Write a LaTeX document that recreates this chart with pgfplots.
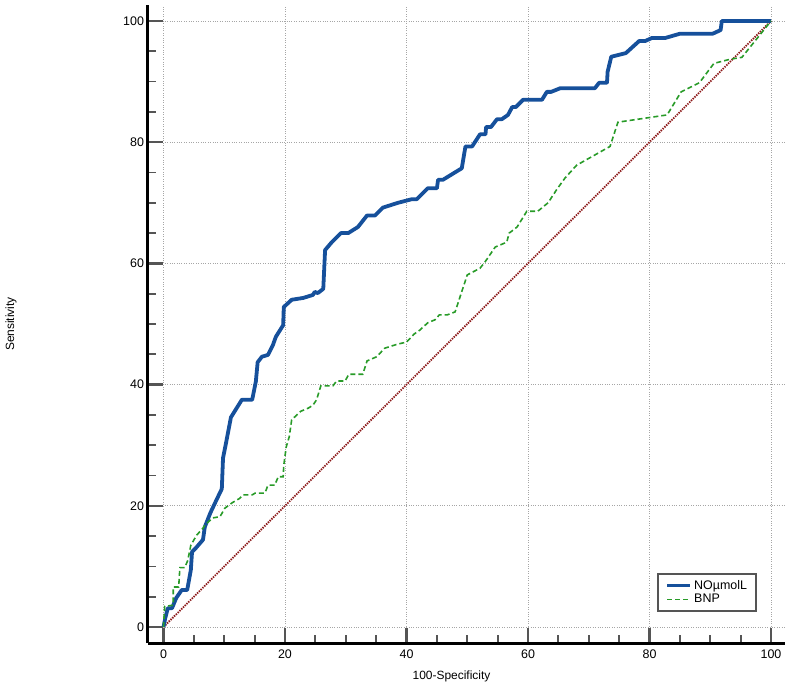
\documentclass[border=0pt]{standalone}
\usepackage{pgfplots}
\pgfplotsset{compat=1.18}
\usepackage{fontspec}
\setmainfont{Liberation Sans}
\definecolor{rocblue}{RGB}{22,80,155}
\definecolor{rocgreen}{RGB}{40,155,40}
\definecolor{diagred}{RGB}{140,25,25}
\definecolor{tickgray}{RGB}{85,85,85}
\begin{document}
\begin{tikzpicture}
\useasboundingbox (-148bp,-44bp) rectangle (646bp,643bp);
\begin{axis}[
  at={(0,0)}, anchor=south west,
  scale only axis, width=637bp, height=638bp,
  xmin=-2.55, xmax=102.3, ymin=-2.64, ymax=102.64,
  axis x line*=bottom, axis y line*=left,
  axis line style={line width=3bp, black, -},
  xtick={0,20,40,60,80,100}, ytick={0,20,40,60,80,100},
  minor tick num=3,
  tick align=inside,
  major tick length=15.5bp, minor tick length=8bp,
  every major tick/.append style={line width=2.6bp, tickgray},
  every minor tick/.append style={line width=1.8bp, tickgray},
  grid=major,
  major grid style={dotted, gray!70, line width=0.9bp},
  /pgf/number format/assume math mode=true,
  ticklabel style={font=\fontsize{12.5}{14}\selectfont},
  xticklabel style={yshift=-3.5bp},
  yticklabel style={xshift=-0.5bp},
  xlabel={100-Specificity}, ylabel={Sensitivity},
  label style={font=\fontsize{12}{14}\selectfont},
  xlabel style={at={(axis description cs:0.4765,0)}, anchor=center, yshift=-33bp},
  ylabel style={at={(axis description cs:-0.215,0.5)}, anchor=center},
  legend style={at={(0.956,0.049)}, anchor=south east, draw=tickgray, line width=1.8bp,
    font=\fontsize{12.5}{15}\selectfont, inner xsep=7bp, inner ysep=4.5bp,
    row sep=-0.5bp, fill=white},
  legend cell align=left,
  legend image code/.code={\draw[mark repeat=2,mark phase=2,#1] plot coordinates {(0cm,0cm) (0.41cm,0cm) (0.82cm,0cm)};},
  clip=false,
]
\addplot[diagred, line width=1.8bp, dash pattern=on 1.4bp off 1.1bp, forget plot] coordinates {(0,0) (100,100)};
\addplot[draw=rocblue, line width=3.8bp, line join=round] coordinates {
(0,0) (0.3,1.5) (0.7,3.1) (1.4,3.1) (2.1,4.8) (3.0,6.1) (3.9,6.1) (4.5,9.4) (4.7,12.4) (5.3,13.0) (6.5,14.4) (6.8,16.5) (7.7,18.8) (8.5,20.5) (9.6,22.8) (9.8,27.9) (10.3,30.4) (11.1,34.6) (12.9,37.5) (14.6,37.5) (15.2,40.5) (15.5,43.7) (16.2,44.6) (17.2,44.9) (18.0,46.5) (18.5,47.9) (19.7,49.8) (19.8,52.8) (21.1,54.0) (23.0,54.3) (24.6,54.8) (24.9,55.3) (25.4,55.1) (26.3,55.8) (26.6,62.2) (27.7,63.5) (29.2,65.0) (30.4,65.0) (32.0,66.0) (33.5,67.9) (34.8,67.9) (36.1,69.2) (38.6,70.0) (40.9,70.6) (41.7,70.6) (43.5,72.4) (45.0,72.4) (45.2,73.8) (46.0,73.8) (49.1,75.7) (49.7,79.3) (50.8,79.3) (52.1,81.3) (53.0,81.3) (53.1,82.5) (53.9,82.5) (54.9,83.8) (55.7,83.8) (56.7,84.5) (57.4,85.8) (58.0,85.8) (59.2,87.0) (62.3,87.0) (63.1,88.3) (63.8,88.3) (65.3,88.9) (71.0,88.9) (71.7,89.8) (73.0,89.8) (73.1,91.6) (73.7,94.1) (76.1,94.7) (78.3,96.7) (79.3,96.7) (80.4,97.2) (82.6,97.2) (85.0,97.9) (90.4,97.9) (91.7,98.5) (91.9,100) (100,100)
};
\addlegendentry{NOµmolL}
\addplot[draw=rocgreen, line width=1.6bp, dash pattern=on 5bp off 3bp] coordinates {
(0,0) (0.2,3.4) (1.6,3.6) (1.6,6.6) (2.5,6.6) (2.7,9.8) (3.5,9.8) (4.0,11.0) (4.5,13.5) (5.2,14.7) (5.5,15.2) (6.5,16.3) (6.8,16.8) (8.1,18.0) (9.3,18.2) (10.1,19.6) (11.3,20.5) (12.5,21.2) (13.1,21.8) (14.6,21.8) (15.1,22.1) (16.7,22.1) (17.2,23.4) (18.3,23.4) (18.9,24.8) (19.7,24.8) (19.8,26.7) (20.2,29.7) (20.7,31.4) (21.1,34.2) (22.6,35.6) (23.8,36.1) (24.6,36.6) (25.2,37.5) (25.9,39.8) (27.9,39.8) (28.5,40.6) (29.9,40.6) (30.5,41.7) (32.8,41.7) (33.5,43.9) (35.1,44.6) (36.4,46.0) (38.6,46.7) (40.0,47.0) (41.2,48.3) (42.2,49.0) (43.5,50.2) (44.7,50.7) (45.4,51.5) (46.7,51.5) (48.0,52.0) (50.0,58.1) (52.1,59.2) (52.9,60.2) (54.6,62.7) (56.5,63.5) (56.9,65.0) (58.2,66.0) (59.8,68.6) (61.6,68.6) (63.3,70.0) (64.8,72.3) (66.1,74.1) (68.0,76.2) (73.5,79.3) (74.8,83.3) (82.9,84.5) (85.2,88.3) (88.2,89.8) (90.6,93.0) (93.3,93.7) (95.2,94.0) (100,100)
};
\addlegendentry{BNP}
\end{axis}
\end{tikzpicture}
\end{document}
